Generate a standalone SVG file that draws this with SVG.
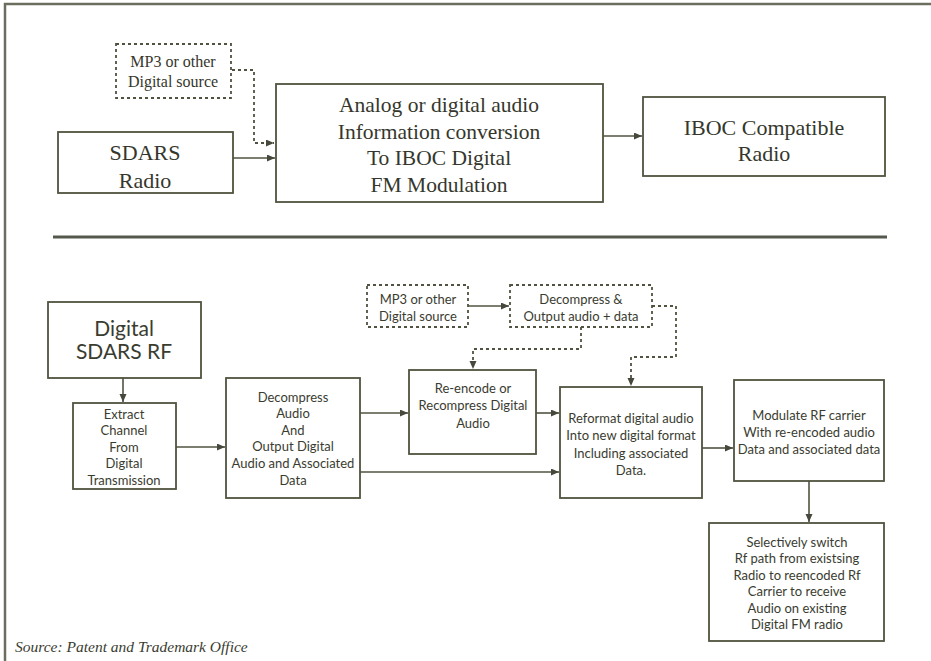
<svg xmlns="http://www.w3.org/2000/svg" width="931" height="661" viewBox="0 0 931 661">
<style>
.box{fill:#fff;stroke:#50533f;stroke-width:1.8}
.dbox{fill:#fff;stroke:#50533f;stroke-width:1.8;stroke-dasharray:3,3}
.ln{fill:none;stroke:#50533f;stroke-width:1.6}
.dl{fill:none;stroke:#50533f;stroke-width:1.8;stroke-dasharray:3,3}
.serif{font-family:"Liberation Serif","Times New Roman",serif;fill:#35372c;text-anchor:middle}
.sans{font-family:Lato,"Liberation Sans",sans-serif;fill:#3a3c30;text-anchor:middle;font-size:13px}
</style>
<defs>
<marker id="ah" markerUnits="userSpaceOnUse" markerWidth="9" markerHeight="8" refX="8" refY="3.5" orient="auto">
<path d="M0,0 L8,3.5 L0,7 z" fill="#45483a"/>
</marker>
</defs>
<rect width="931" height="661" fill="#fff"/>
<path d="M5,661 V4 H931" fill="none" stroke="#6b6e5e" stroke-width="2.5"/>
<line x1="53" y1="237" x2="887" y2="237" stroke="#55584d" stroke-width="3"/>

<g id="connectors">
<path class="dl" d="M232,70 H254 V143 H274" marker-end="url(#ah)"/>
<path class="ln" d="M233,158 H275" marker-end="url(#ah)"/>
<path class="ln" d="M603,136 H642" marker-end="url(#ah)"/>
<path class="ln" d="M123,378 V402" marker-end="url(#ah)"/>
<path class="ln" d="M176,447 H225" marker-end="url(#ah)"/>
<path class="ln" d="M360,413 H408" marker-end="url(#ah)"/>
<path class="ln" d="M360,472 H559" marker-end="url(#ah)"/>
<path class="ln" d="M468,306 H509" marker-end="url(#ah)"/>
<path class="dl" d="M581,327 V349 H473 V369" marker-end="url(#ah)"/>
<path class="dl" d="M652,306 H676 V357 H631 V386" marker-end="url(#ah)"/>
<path class="ln" d="M536,413 H559" marker-end="url(#ah)"/>
<path class="ln" d="M702,448 H733" marker-end="url(#ah)"/>
<path class="ln" d="M809,481 V522" marker-end="url(#ah)"/>
</g>

<g id="mp3-top">
<rect class="dbox" x="116" y="44" width="115" height="54"/>
<text class="serif" font-size="16" x="173" y="67">MP3 or other</text>
<text class="serif" font-size="16" x="173" y="87">Digital source</text>
</g>
<g id="sdars-radio">
<rect class="box" x="58" y="132" width="175" height="61"/>
<text class="serif" font-size="22" x="145" y="160">SDARS</text>
<text class="serif" font-size="22" x="145" y="188">Radio</text>
</g>
<g id="conversion">
<rect class="box" x="276" y="84" width="327" height="118"/>
<text class="serif" font-size="21.5" x="439" y="112">Analog or digital audio</text>
<text class="serif" font-size="21.5" x="439" y="139">Information conversion</text>
<text class="serif" font-size="21.5" x="439" y="165">To IBOC Digital</text>
<text class="serif" font-size="21.5" x="439" y="192">FM Modulation</text>
</g>
<g id="iboc-radio">
<rect class="box" x="643" y="97" width="242" height="79"/>
<text class="serif" font-size="22" x="764" y="135">IBOC Compatible</text>
<text class="serif" font-size="22" x="764" y="161">Radio</text>
</g>

<g id="digital-sdars-rf">
<rect class="box" x="48" y="302" width="153" height="76"/>
<text class="sans" style="font-size:21px" x="124" y="336">Digital</text>
<text class="sans" style="font-size:21px" x="124" y="359">SDARS RF</text>
</g>
<g id="extract">
<rect class="box" x="73" y="403" width="103" height="86"/>
<text class="sans" x="124" y="418.5">Extract</text>
<text class="sans" x="124" y="435">Channel</text>
<text class="sans" x="124" y="451.5">From</text>
<text class="sans" x="124" y="468">Digital</text>
<text class="sans" x="124" y="484.5">Transmission</text>
</g>
<g id="decompress">
<rect class="box" x="226" y="378" width="134" height="120"/>
<text class="sans" x="293" y="401.5">Decompress</text>
<text class="sans" x="293" y="418">Audio</text>
<text class="sans" x="293" y="434.5">And</text>
<text class="sans" x="293" y="451">Output Digital</text>
<text class="sans" x="293" y="468">Audio and Associated</text>
<text class="sans" x="293" y="485">Data</text>
</g>
<g id="reencode">
<rect class="box" x="409" y="370" width="127" height="84"/>
<text class="sans" x="473" y="392.5">Re-encode or</text>
<text class="sans" x="473" y="410">Recompress Digital</text>
<text class="sans" x="473" y="427.5">Audio</text>
</g>
<g id="mp3-bottom">
<rect class="dbox" x="367" y="285" width="101" height="42"/>
<text class="sans" x="418" y="303.5">MP3 or other</text>
<text class="sans" x="418" y="320.5">Digital source</text>
</g>
<g id="decompress-output">
<rect class="dbox" x="510" y="285" width="142" height="42"/>
<text class="sans" x="581" y="303.5">Decompress &amp;</text>
<text class="sans" x="581" y="320.5">Output audio + data</text>
</g>
<g id="reformat">
<rect class="box" x="560" y="387" width="142" height="111"/>
<text class="sans" x="631" y="422.5">Reformat digital audio</text>
<text class="sans" x="631" y="440">Into new digital format</text>
<text class="sans" x="631" y="457.5">Including associated</text>
<text class="sans" x="631" y="474.5">Data.</text>
</g>
<g id="modulate">
<rect class="box" x="734" y="380" width="150" height="101"/>
<text class="sans" x="809" y="419.5">Modulate RF carrier</text>
<text class="sans" x="809" y="436.5">With re-encoded audio</text>
<text class="sans" x="809" y="453.5">Data and associated data</text>
</g>
<g id="switch">
<rect class="box" x="709" y="523" width="175" height="118"/>
<text class="sans" x="797" y="546.5">Selectively switch</text>
<text class="sans" x="797" y="563">Rf path from existsing</text>
<text class="sans" x="797" y="579.5">Radio to reencoded Rf</text>
<text class="sans" x="797" y="596">Carrier to receive</text>
<text class="sans" x="797" y="612.5">Audio on existing</text>
<text class="sans" x="797" y="629">Digital FM radio</text>
</g>

<text x="15" y="652" font-family="'Liberation Serif','Times New Roman',serif" font-style="italic" font-size="15.5" fill="#3a3c30">Source: Patent and Trademark Office</text>
</svg>
